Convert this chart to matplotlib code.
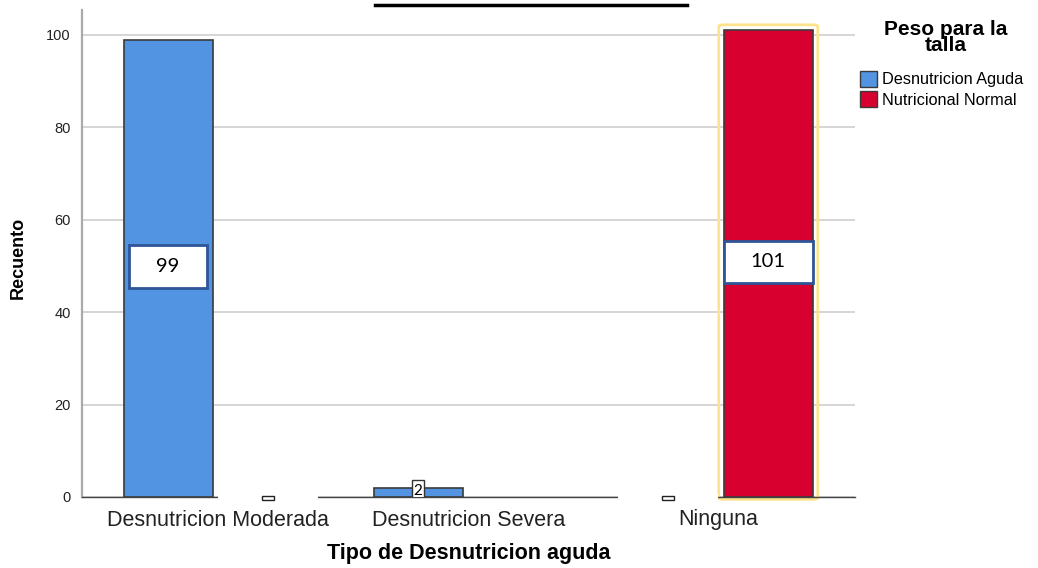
import matplotlib.pyplot as plt
import numpy as np
from matplotlib.lines import Line2D
from matplotlib.patches import FancyBboxPatch, Patch, Rectangle

# counts per type of acute malnutrition, split by weight-for-height group
# (None = combination not present in the table)
categories = ["Desnutricion Moderada", "Desnutricion Severa", "Ninguna"]
series_names = ["Desnutricion Aguda", "Nutricional Normal"]
aguda_counts = [99, 2, 0]
normal_counts = [0, None, 101]
y_ticks = [0, 20, 40, 60, 80, 100]

BLUE = "#5294e2"
RED = "#d7002e"
EDGE = "#3a3a3a"
BOX_EDGE = "#2f5597"
HIGHLIGHT = "#fde38c"

BAR_WIDTH = 0.356
OFFSET = 0.2

plt.rcParams["font.family"] = ["Liberation Sans", "DejaVu Sans"]

fig = plt.figure(figsize=(10.38, 5.68), dpi=100)
ax = fig.add_axes([0.079, 0.125, 0.745, 0.8574])

x = np.arange(len(categories))
for values, color, shift in [(aguda_counts, BLUE, -OFFSET), (normal_counts, RED, OFFSET)]:
    for xp, v in zip(x + shift, values):
        if v is None:
            continue
        if v == 0:
            # empty slot: white label area hides the baseline, tiny box below it
            ax.add_patch(Rectangle((xp - 0.2, -0.6), 0.4, 1.2, facecolor="white",
                                   edgecolor="none", zorder=4, clip_on=False))
            ax.add_patch(Rectangle((xp - 0.025, -0.7), 0.05, 1.0, facecolor="white",
                                   edgecolor="#222222", linewidth=1.0, zorder=5, clip_on=False))
            continue
        ax.bar(xp, v, width=BAR_WIDTH, color=color, edgecolor=EDGE, linewidth=1.2, zorder=3)
        label = str(v)
        if v < 9:
            bw, bh, fs = 0.05, 4.4, 11
        else:
            bw, bh, fs = (0.31 if len(label) < 3 else BAR_WIDTH), 9.2, 14.5
        ax.add_patch(Rectangle((xp - bw / 2, v / 2 - bh / 2 + 0.4), bw, bh, facecolor="white",
                               edgecolor=BOX_EDGE if v >= 9 else "#333333",
                               linewidth=2 if v >= 9 else 1, zorder=5))
        ax.text(xp, v / 2 + 0.4, label, ha="center", va="center", fontsize=fs,
                family=["Lato", "DejaVu Sans"], zorder=6)

# highlighted (selected) bar outline
sel = x[2] + OFFSET
ax.add_patch(FancyBboxPatch((sel - BAR_WIDTH / 2 - 0.02, -0.5), BAR_WIDTH + 0.04,
                            normal_counts[2] + 0.5 + 1.2,
                            boxstyle="round,pad=0,rounding_size=0.02",
                            facecolor="none", edgecolor=HIGHLIGHT, linewidth=2,
                            zorder=2, clip_on=False, mutation_aspect=20))

ax.set_xlim(-0.544, 2.548)
ax.set_ylim(0, 105.4)
ax.set_yticks(y_ticks)
ax.set_xticks(x)
ax.set_xticklabels(categories, fontsize=15.5, color="#222222")
ax.tick_params(axis="y", length=0, pad=8, labelsize=10.5, labelcolor="#222222")
ax.tick_params(axis="x", length=0, pad=9)
ax.grid(axis="y", color="#d2d2d2", linewidth=1.3, zorder=0)
ax.set_axisbelow(True)

for side in ["top", "right"]:
    ax.spines[side].set_visible(False)
ax.spines["left"].set_color("#aaaaaa")
ax.spines["left"].set_linewidth(1.6)
ax.spines["bottom"].set_color("#444444")
ax.spines["bottom"].set_linewidth(1.0)

ax.set_ylabel("Recuento", fontsize=13, fontweight="bold", va="center")
ax.yaxis.set_label_coords(-0.083, 0.49)
ax.set_xlabel("Tipo de Desnutricion aguda", fontsize=15.5, fontweight="bold", va="center")
ax.xaxis.set_label_coords(0.5, -0.115)

# underline of the chart title at the top edge
fig.add_artist(Line2D([375 / 1038, 687 / 1038], [1 - 5 / 568, 1 - 5 / 568],
                      color="black", linewidth=2.5))

fig.text(0.911, 0.965, "Peso para la\ntalla", ha="center", va="top", fontsize=15,
         fontweight="bold", linespacing=0.78)
handles = [Patch(facecolor=BLUE, edgecolor=EDGE, label=series_names[0]),
           Patch(facecolor=RED, edgecolor=EDGE, label=series_names[1])]
fig.legend(handles=handles, loc="upper left", bbox_to_anchor=(0.818, 0.895),
           frameon=False, fontsize=11.7, handlelength=1.0, handleheight=1.1,
           handletextpad=0.3, labelspacing=0.25, borderpad=0.2)

fig.savefig("out.png", dpi=100)
